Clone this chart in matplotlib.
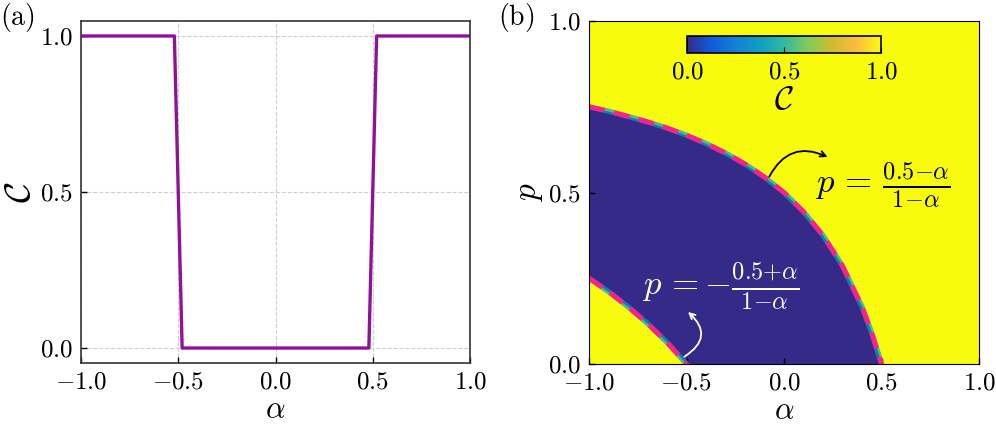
import numpy as np
import matplotlib
matplotlib.use("Agg")
import matplotlib.pyplot as plt
from matplotlib.colors import LinearSegmentedColormap
from matplotlib.cm import ScalarMappable

plt.rcParams['mathtext.fontset'] = 'cm'
plt.rcParams['font.family'] = 'serif'
plt.rcParams['font.serif'] = ['cmr10', 'DejaVu Serif']
plt.rcParams['axes.formatter.use_mathtext'] = True

# --- data (a): order parameter along alpha ---
alpha_a = [-1.0, -0.52, -0.48, 0.48, 0.52, 1.0]
C_a = [1.0, 1.0, 0.0, 0.0, 1.0, 1.0]

# --- data (b): phase boundaries ---
alpha_b = [-1.0, -0.9, -0.8, -0.7, -0.6, -0.5, -0.4, -0.3, -0.2, -0.1,
           0.0, 0.1, 0.2, 0.3, 0.4, 0.45, 0.5]
p_upper = [0.75, 0.737, 0.722, 0.706, 0.688, 0.667, 0.643, 0.615, 0.583, 0.545,
           0.5, 0.444, 0.375, 0.286, 0.167, 0.091, 0.0]
p_lower = [0.25, 0.211, 0.167, 0.118, 0.063, 0.0, 0.0, 0.0, 0.0, 0.0,
           0.0, 0.0, 0.0, 0.0, 0.0, 0.0, 0.0]
n_lower = 6  # points of the lower boundary inside the frame

ticks = [-1.0, -0.5, 0.0, 0.5, 1.0]

# parula-like colormap
parula_pts = [(0.2081, 0.1663, 0.5292), (0.0592, 0.3598, 0.8683),
              (0.0779, 0.5040, 0.8384), (0.0641, 0.6217, 0.7570),
              (0.1986, 0.7214, 0.6310), (0.5044, 0.7993, 0.3480),
              (0.8185, 0.7327, 0.1773), (0.9856, 0.7372, 0.2537),
              (0.9763, 0.9831, 0.0538)]
parula = LinearSegmentedColormap.from_list('parula', parula_pts)

fig = plt.figure(figsize=(9.96, 4.25), dpi=100)
W, H = 996, 425

def px_axes(x0, y0, x1, y1):
    return fig.add_axes([x0 / W, 1 - y1 / H, (x1 - x0) / W, (y1 - y0) / H])

# ---------------- panel (a) ----------------
ax1 = px_axes(81, 21, 470, 363)
ax1.plot(alpha_a, C_a, color='#8e1396', lw=2.4)
ax1.set_xlim(-1, 1)
ax1.set_ylim(-0.048, 1.048)
ax1.set_xticks(ticks)
ax1.set_yticks([0.0, 0.5, 1.0])
ax1.grid(True, ls='--', color='#cfcfcf', lw=0.8)
ax1.set_xlabel(r'$\alpha$', fontsize=22, labelpad=2)
ax1.set_ylabel(r'$\mathcal{C}$', fontsize=26, labelpad=2)
for s in ax1.spines.values():
    s.set_color('#333333')
    s.set_linewidth(1.2)

# ---------------- panel (b) ----------------
ax2 = px_axes(589, 21, 979, 364)
ax2.set_facecolor(parula(1.0))
ax2.fill_between(alpha_b, p_lower, p_upper, color=parula(0.0), lw=0)
# soft edge of the boundary
ax2.plot(alpha_b, p_upper, color=parula(0.35), lw=3.8, alpha=0.7)
ax2.plot(alpha_b[:n_lower], p_lower[:n_lower], color=parula(0.35), lw=3.8, alpha=0.7)
ax2.plot(alpha_b, p_upper, color='#ff1e8e', lw=3.4, dashes=(3.4, 2.0))
ax2.plot(alpha_b[:n_lower], p_lower[:n_lower], color='#ff1e8e', lw=3.4, dashes=(3.4, 2.0))
ax2.set_xlim(-1, 1)
ax2.set_ylim(0, 1)
ax2.set_xticks(ticks)
ax2.set_yticks([0.0, 0.5, 1.0])
ax2.set_xlabel(r'$\alpha$', fontsize=22, labelpad=2)
ax2.set_ylabel(r'$p$', fontsize=24, labelpad=2)

ax2.text(0.16, 0.52, r'$p\,=\,\frac{0.5{-}\alpha}{1{-}\alpha}$', fontsize=25,
         color='black', va='center', ha='left')
ax2.annotate('', xy=(0.236, 0.60), xytext=(-0.082, 0.539),
             arrowprops=dict(arrowstyle='->', color='black', lw=1.3,
                             connectionstyle='arc3,rad=-0.5'))
ax2.text(-0.73, 0.227, r'$p\,=-\frac{0.5{+}\alpha}{1{-}\alpha}$', fontsize=25,
         color='white', va='center', ha='left')
ax2.annotate('', xy=(-0.503, 0.157), xytext=(-0.523, 0.017),
             arrowprops=dict(arrowstyle='->', color='white', lw=1.3,
                             connectionstyle='arc3,rad=0.7'))

# inset colorbar
cax = px_axes(687, 36, 881, 53)
sm = ScalarMappable(cmap=parula, norm=plt.Normalize(0, 1))
cb = fig.colorbar(sm, cax=cax, orientation='horizontal')
cb.set_ticks([0.0, 0.5, 1.0])
cb.outline.set_linewidth(1.2)
cax.tick_params(direction='in', labelsize=18, length=4, pad=6)
cb.set_label(r'$\mathcal{C}$', fontsize=24, labelpad=2)

for ax in (ax1, ax2):
    ax.tick_params(direction='in', labelsize=18, length=4, width=1, pad=6)

fig.text(0 / W, 1 - 17 / H, r'$\mathrm{(a)}$', fontsize=20, va='center', ha='left')
fig.text(498 / W, 1 - 17 / H, r'$\mathrm{(b)}$', fontsize=20, va='center', ha='left')

fig.savefig('out.png', dpi=100)
